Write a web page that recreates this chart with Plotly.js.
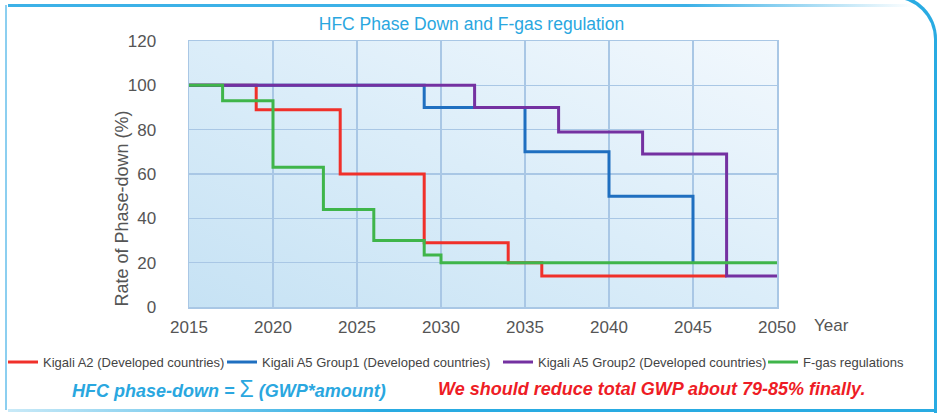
<!DOCTYPE html>
<html>
<head>
<meta charset="utf-8">
<script src="https://cdn.plot.ly/plotly-3.0.1.min.js"></script>
<style>
  html, body { margin:0; padding:0; background:#ffffff; }
  #wrap { position:relative; width:943px; height:416px; overflow:hidden; }
  #bg { position:absolute; left:189px; top:41px; width:588px; height:266px;
        background: linear-gradient(to top right, #c6e2f4 0%, #dbedf9 50%, #f2f8fd 100%); }
  #chart { position:absolute; left:0; top:0; width:943px; height:416px; }
  .fr { position:absolute; pointer-events:none; }
</style>
</head>
<body>
<div id="wrap">
  <div id="bg"></div>
  <div id="chart"></div>
  <div class="fr" style="left:8px; top:4px; width:905px; height:3px; background:linear-gradient(to right,#3cb1e7 0%,#3cb1e7 75%,rgba(60,177,231,0) 100%);"></div>
  <div class="fr" style="left:5px; top:5px; width:2px; height:405px; background:#8ccff0;"></div>
  <div class="fr" style="left:8px; top:409px; width:928px; height:3px; background:linear-gradient(to right,rgba(41,171,226,0.25) 0%,#29abe2 40%,#29abe2 100%);"></div>
  <div class="fr" style="left:870px; top:-6px; width:64px; height:415px; border-top:4px solid #29abe2; border-right:3px solid #29abe2; border-top-right-radius:45px;"></div>
</div>
<script>
// ---- data ----
const seriesNames = [
  "Kigali A2 (Developed countries)",
  "Kigali A5 Group1 (Developed countries)",
  "Kigali A5 Group2 (Developed countries)",
  "F-gas regulations"
];
const kigaliA2Years   = [2015, 2019, 2024, 2029, 2034, 2036, 2047];
const kigaliA2Values  = [100, 89, 60, 29, 20, 14, 14];
const a5g1Years       = [2015, 2029, 2035, 2040, 2045];
const a5g1Values      = [100, 90, 70, 50, 20];
const a5g2Years       = [2015, 2032, 2037, 2042, 2047, 2050];
const a5g2Values      = [100, 90, 79, 69, 14, 14];
const fgasYears       = [2015, 2017, 2020, 2023, 2026, 2029, 2030, 2050];
const fgasValues      = [100, 93, 63, 44, 30, 23.5, 20, 20];
const xTickVals = [2015, 2020, 2025, 2030, 2035, 2040, 2045, 2050];
const yTickVals = [0, 20, 40, 60, 80, 100, 120];
const colors = ["#f0302a", "#1f6fc0", "#7431a1", "#3fb54a"];

const FONT = "Liberation Sans, Arial, Helvetica, sans-serif";
const xs = [kigaliA2Years, a5g1Years, a5g2Years, fgasYears];
const ys = [kigaliA2Values, a5g1Values, a5g2Values, fgasValues];
const legendIds = ["legend", "legend2", "legend3", "legend4"];
// left edge (px) of each legend box
const legendLeftPx = [3, 222, 498, 763];

const traces = seriesNames.map((n, i) => ({
  type: "scatter", mode: "lines", name: n,
  x: xs[i], y: ys[i],
  line: { shape: "hv", color: colors[i], width: 3 },
  legend: legendIds[i],
  hoverinfo: "x+y"
}));

const gridColor = "#a9c7e5";
const layout = {
  width: 943, height: 416,
  margin: { l: 189, r: 166, t: 41, b: 109, autoexpand: false },
  paper_bgcolor: "rgba(0,0,0,0)",
  plot_bgcolor: "rgba(0,0,0,0)",
  font: { family: FONT, color: "#555555" },
  title: { text: "HFC Phase Down and F-gas regulation",
           font: { family: FONT, size: 17.5, color: "#2aa7df" },
           x: 0.5, xanchor: "center", y: 0.942, yanchor: "middle" },
  xaxis: {
    range: [2015, 2050], tickvals: xTickVals, ticktext: xTickVals.map(String),
    showgrid: true, gridcolor: gridColor, gridwidth: 1.5,
    showline: true, mirror: true, linecolor: gridColor, linewidth: 1.5,
    zeroline: false, ticks: "outside", ticklen: 4, tickcolor: "rgba(0,0,0,0)",
    tickfont: { family: FONT, size: 17, color: "#555555" }, fixedrange: true
  },
  yaxis: {
    range: [0, 120], tickvals: yTickVals, ticktext: yTickVals.map(String),
    showgrid: true, gridcolor: gridColor, gridwidth: 1.5,
    showline: true, mirror: true, linecolor: gridColor, linewidth: 1.5,
    zeroline: false, ticks: "outside", ticklen: 28, tickcolor: "rgba(0,0,0,0)",
    tickfont: { family: FONT, size: 17, color: "#555555" }, fixedrange: true
  },
  showlegend: true,
  annotations: [
    { text: "Year", xref: "paper", yref: "paper", x: 1.0595, y: -0.068,
      xanchor: "left", yanchor: "middle", showarrow: false,
      font: { family: FONT, size: 17, color: "#555555" } },
    { text: "Rate of Phase-down (%)", xref: "paper", yref: "paper",
      x: -0.114, y: 0.37, xanchor: "center", yanchor: "middle",
      textangle: -90, showarrow: false,
      font: { family: FONT, size: 18, color: "#555555" } },
    { text: "<b><i>HFC phase-down = </i></b><span style='font-size:23px'>Σ</span><b><i> (GWP*amount)</i></b>",
      xref: "paper", yref: "paper", x: -0.2024, y: -0.308,
      xanchor: "left", yanchor: "middle", showarrow: false,
      font: { family: FONT, size: 18, color: "#2aa7df" } },
    { text: "<b><i>We should reduce total GWP about 79-85% finally.</i></b>",
      xref: "paper", yref: "paper", x: 0.42, y: -0.308,
      xanchor: "left", yanchor: "middle", showarrow: false,
      font: { family: FONT, size: 18, color: "#ee1c25" } }
  ]
};

legendIds.forEach((id, i) => {
  layout[id] = {
    orientation: "h", x: (legendLeftPx[i] - 189) / 588, xanchor: "left",
    y: -0.207, yanchor: "middle",
    font: { family: FONT, size: 13, color: "#444444" },
    bgcolor: "rgba(0,0,0,0)", borderwidth: 0,
    itemclick: false, itemdoubleclick: false
  };
});

Plotly.newPlot("chart", traces, layout, { displayModeBar: false, staticPlot: true });
</script>
</body>
</html>
